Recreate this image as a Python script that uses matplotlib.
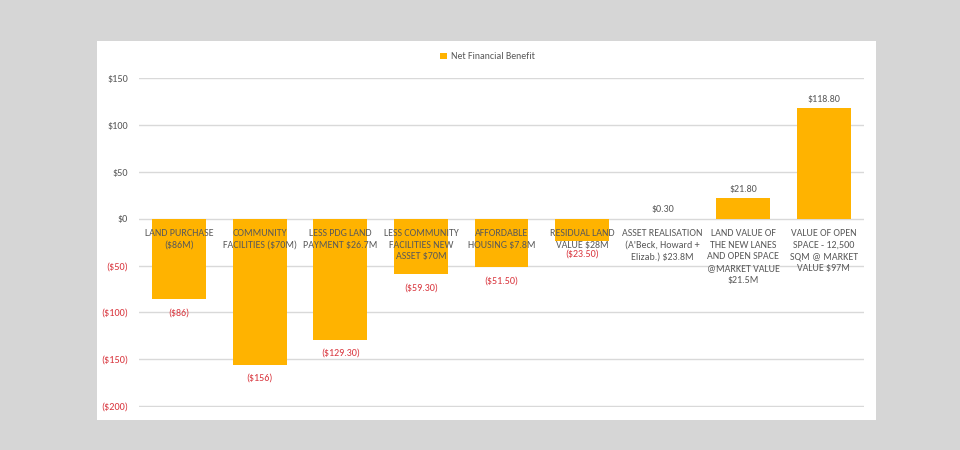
import numpy as np
import matplotlib.pyplot as plt
from matplotlib.patches import Rectangle

categories = [
    "LAND PURCHASE\n($86M)",
    "COMMUNITY\nFACILITIES ($70M)",
    "LESS PDG LAND\nPAYMENT $26.7M",
    "LESS COMMUNITY\nFACILITIES NEW\nASSET $70M",
    "AFFORDABLE\nHOUSING $7.8M",
    "RESIDUAL LAND\nVALUE $28M",
    "ASSET REALISATION\n(A'Beck, Howard +\nElizab.) $23.8M",
    "LAND VALUE OF\nTHE NEW LANES\nAND OPEN SPACE\n@MARKET VALUE\n$21.5M",
    "VALUE OF OPEN\nSPACE - 12,500\nSQM @ MARKET\nVALUE $97M",
]
values = [-86, -156, -129.3, -59.3, -51.5, -23.5, 0.3, 21.8, 118.8]
value_labels = ["($86)", "($156)", "($129.30)", "($59.30)", "($51.50)",
                "($23.50)", "$0.30", "$21.80", "$118.80"]
yticks = [150, 100, 50, 0, -50, -100, -150, -200]
ytick_labels = ["$150", "$100", "$50", "$0", "($50)", "($100)", "($150)", "($200)"]

BAR = "#FFB300"
GREY = "#595959"
RED = "#D9363E"
plt.rcParams["font.family"] = ["Carlito", "PT Sans", "Liberation Sans", "DejaVu Sans"]

fig = plt.figure(figsize=(9.6, 4.5), dpi=100)
fig.patch.set_facecolor("#D6D6D6")
# white chart panel behind the axes
fig.patches.append(Rectangle((97 / 960, 1 - 420 / 450), (876 - 97) / 960, (420 - 41) / 450,
                             transform=fig.transFigure, facecolor="white",
                             edgecolor="none", zorder=-10))

ax = fig.add_axes([139 / 960, 1 - 407 / 450, (864 - 139) / 960, (407 - 78) / 450])
ax.set_facecolor("none")
x = np.arange(len(values))
ax.bar(x, values, width=0.67, color=BAR, zorder=2, label="Net Financial Benefit")
ax.set_xlim(-0.5, len(values) - 0.5)
ax.set_ylim(-201, 150.5)
ax.set_yticks(yticks)
ax.set_yticklabels(ytick_labels)
for lab, v in zip(ax.get_yticklabels(), yticks):
    lab.set_color(RED if v < 0 else GREY)
ax.tick_params(axis="y", length=0, labelsize=7.4, pad=8)
ax.set_xticks([])
ax.grid(axis="y", color="#D9D9D9", lw=1, zorder=0)
for s in ax.spines.values():
    s.set_visible(False)

for xi, v, lab, cat in zip(x, values, value_labels, categories):
    if v < 0:
        ax.annotate(lab, (xi, v), xytext=(0, -6.5), textcoords="offset points",
                    ha="center", va="top", fontsize=7.2, color=RED, zorder=3)
    else:
        ax.annotate(lab, (xi, v), xytext=(0, 3), textcoords="offset points",
                    ha="center", va="bottom", fontsize=7.2, color=GREY, zorder=3)
    ax.annotate(cat, (xi, 0), xytext=(0, -7), textcoords="offset points",
                ha="center", va="top", fontsize=7.2, color=GREY,
                linespacing=1.42, zorder=4)

leg = ax.legend(loc="center", bbox_to_anchor=(0.481, 1.064), frameon=False,
                fontsize=7.1, handlelength=0.7, handleheight=0.7, handletextpad=0.4)
for t in leg.get_texts():
    t.set_color(GREY)

fig.savefig("out.png", dpi=100, facecolor=fig.get_facecolor())
